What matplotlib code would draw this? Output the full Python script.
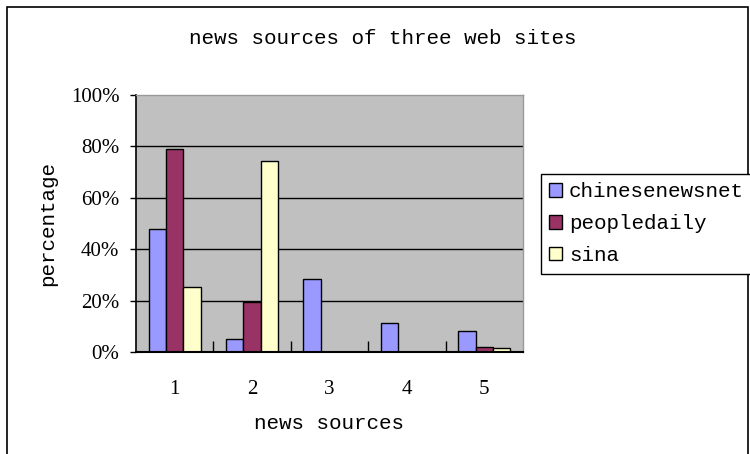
import numpy as np
import matplotlib.pyplot as plt
from matplotlib.patches import Rectangle

# news source categories and share per web site
categories = ["1", "2", "3", "4", "5"]
chinesenewsnet = [0.478, 0.052, 0.283, 0.111, 0.083]
peopledaily = [0.79, 0.193, 0.0, 0.0, 0.02]
sina = [0.252, 0.744, 0.0, 0.0, 0.014]
y_ticks = [0, 0.2, 0.4, 0.6, 0.8, 1.0]
y_labels = ["0%", "20%", "40%", "60%", "80%", "100%"]

mono = "Liberation Mono"
serif = "Liberation Serif"

fig = plt.figure(figsize=(7.5, 4.54), dpi=100)
W, H = 750, 454
ax = fig.add_axes([136 / W, 1 - 352 / H, 387 / W, 257 / H])

# outer chart frame (runs past right/bottom edge)
fig.patches.append(Rectangle((7 / W, -0.1), 741 / W, 1 - 7 / H + 0.1,
                             transform=fig.transFigure, fill=False,
                             edgecolor="black", linewidth=1.2))

x = np.arange(len(categories))
bw = 0.225


def edge_widths(vals):
    # empty bars get no outline, like the original
    return [1 if v > 0 else 0 for v in vals]


ax.bar(x - bw, chinesenewsnet, bw, color="#9999FF", edgecolor="black",
       linewidth=edge_widths(chinesenewsnet), label="chinesenewsnet", zorder=3)
ax.bar(x, peopledaily, bw, color="#993366", edgecolor="black",
       linewidth=edge_widths(peopledaily), label="peopledaily", zorder=3)
ax.bar(x + bw, sina, bw, color="#FFFFCC", edgecolor="black",
       linewidth=edge_widths(sina), label="sina", zorder=3)

ax.set_facecolor("#C0C0C0")
ax.set_xlim(-0.5, len(categories) - 0.5)
ax.set_ylim(0, 1.0)
ax.set_yticks(y_ticks)
ax.set_yticklabels(y_labels, fontfamily=serif, fontsize=15)
ax.set_xticks(x)
ax.set_xticklabels(categories, fontfamily=serif, fontsize=15)
ax.tick_params(axis="x", length=0, pad=20)
ax.set_xticks(x[:-1] + 0.5, minor=True)
ax.tick_params(axis="x", which="minor", direction="in", length=8, width=1)
ax.tick_params(axis="y", direction="out", length=4, width=1, pad=8)
for yv in y_ticks[1:-1]:
    ax.axhline(yv, color="black", linewidth=1, zorder=1)

for s in ["top", "right"]:
    ax.spines[s].set_color("#999999")
    ax.spines[s].set_linewidth(1)
ax.spines["left"].set_linewidth(1.2)
ax.spines["bottom"].set_linewidth(1.5)
ax.spines["bottom"].set_zorder(4)

ax.set_xlabel("news sources", fontfamily=mono, fontsize=15, labelpad=11)
ax.set_ylabel("percentage", fontfamily=mono, fontsize=15, labelpad=10)
fig.text(383 / W, 1 - 38 / H, "news sources of three web sites", fontfamily=mono,
         fontsize=15, ha="center", va="center")

leg = fig.legend(loc="upper left", bbox_to_anchor=(541 / W, 1 - 174 / H),
                 bbox_transform=fig.transFigure, borderaxespad=0,
                 prop={"family": mono, "size": 15}, fancybox=False,
                 edgecolor="black", framealpha=1, handlelength=0.6,
                 handleheight=0.6, handletextpad=0.35, labelspacing=0.62,
                 borderpad=0.4)
leg.get_frame().set_linewidth(1)
for h in leg.legend_handles:
    h.set_linewidth(1)

fig.savefig("out.png", dpi=100)
